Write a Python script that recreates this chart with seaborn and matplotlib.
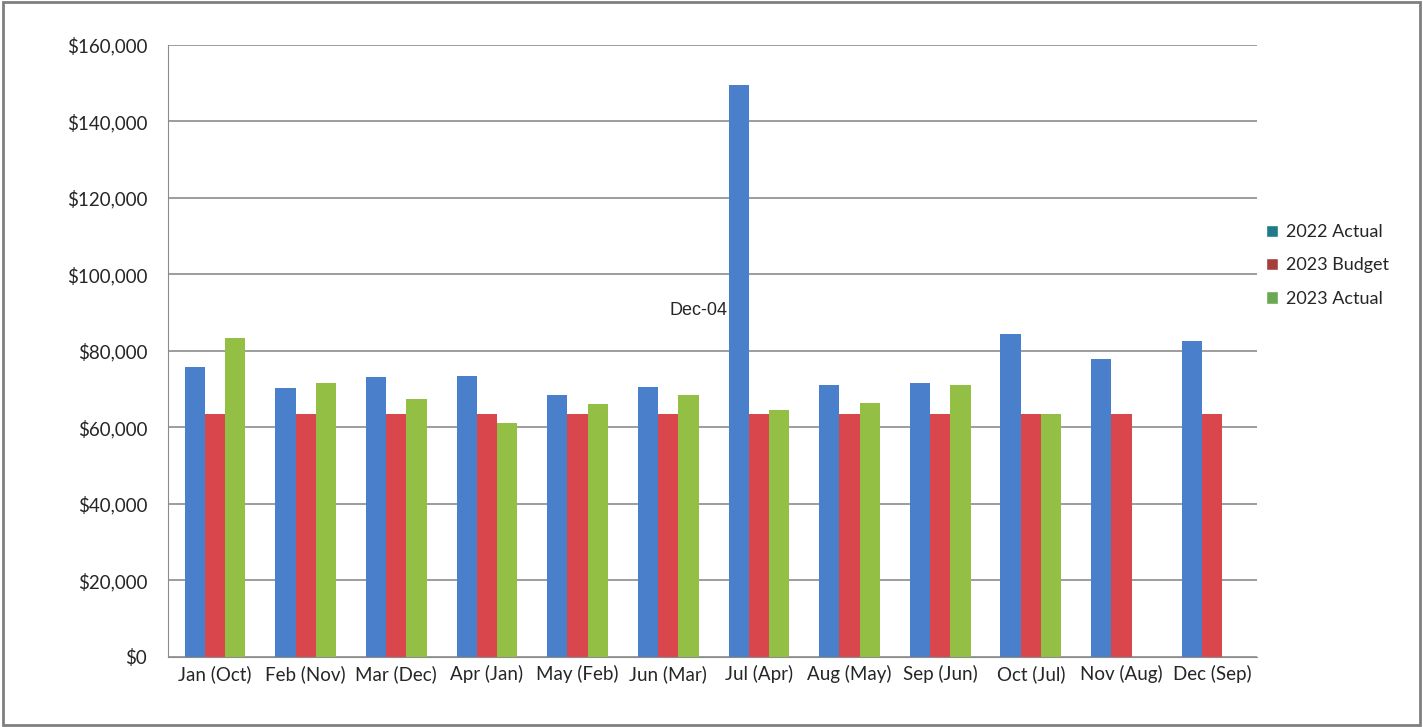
import matplotlib.pyplot as plt
from matplotlib.patches import Patch
import seaborn as sns
import numpy as np
import pandas as pd

months = ['Jan (Oct)', 'Feb (Nov)', 'Mar (Dec)', 'Apr (Jan)', 'May (Feb)', 'Jun (Mar)',
          'Jul (Apr)', 'Aug (May)', 'Sep (Jun)', 'Oct (Jul)', 'Nov (Aug)', 'Dec (Sep)']
actual_2022 = [75800, 70300, 73200, 73500, 68500, 70500, 149500, 71000, 71500, 84500, 78000, 82500]
budget_2023 = [63500, 63500, 63500, 63500, 63500, 63500, 63500, 63500, 63500, 63500, 63500, 63500]
actual_2023 = [83400, 71600, 67500, 61200, 66000, 68500, 64500, 66500, 71000, 63500, np.nan, np.nan]
series = ['2022 Actual', '2023 Budget', '2023 Actual']
bar_colors = ['#4a7fcb', '#d9474c', '#93bf45']
legend_colors = ['#1f7a8a', '#a3403d', '#6aa851']

df = pd.DataFrame({'month': months * 3,
                   'series': [series[0]] * 12 + [series[1]] * 12 + [series[2]] * 12,
                   'value': actual_2022 + budget_2023 + actual_2023})

sns.set_style('white')
plt.rcParams['font.family'] = ['Lato', 'DejaVu Sans']

fig = plt.figure(figsize=(14.23, 7.27), dpi=100)
ax = fig.add_axes([0.118, 0.0963, 0.765, 0.842])
sns.barplot(data=df, x='month', y='value', hue='series', palette=bar_colors,
            width=0.67, saturation=1, linewidth=0, ax=ax, legend=False)

ax.set_ylim(0, 160000)
ax.set_xlim(-0.52, 11.49)
ax.set_yticks(range(0, 160001, 20000))
ax.set_yticklabels(['${:,}'.format(v) for v in range(0, 160001, 20000)], fontsize=13.5)
ax.tick_params(axis='x', labelsize=13.5, length=0, pad=6)
ax.tick_params(axis='y', length=0, pad=15)
ax.set_xlabel('')
ax.set_ylabel('')
ax.yaxis.grid(True, color='#8c8c8c', linewidth=1.2)
ax.set_axisbelow(True)
for s in ['top', 'right']:
    ax.spines[s].set_visible(False)
ax.spines['left'].set_color('#8c8c8c')
ax.spines['bottom'].set_color('#8c8c8c')

ax.text(5.33, 90500, 'Dec-04', ha='center', va='center', fontsize=13,
        family=['Liberation Sans', 'DejaVu Sans'])

handles = [Patch(facecolor=c, label=l) for c, l in zip(legend_colors, series)]
fig.legend(handles=handles, loc='center left', bbox_to_anchor=(0.878, 0.635),
           frameon=False, fontsize=13, handlelength=0.7, handleheight=0.7,
           handletextpad=0.4, labelspacing=0.95)

border = plt.Rectangle((0.002, 0.003), 0.996, 0.994, transform=fig.transFigure,
                       fill=False, edgecolor='#7f7f7f', linewidth=2)
fig.patches.append(border)

plt.savefig('out.png', dpi=100)
